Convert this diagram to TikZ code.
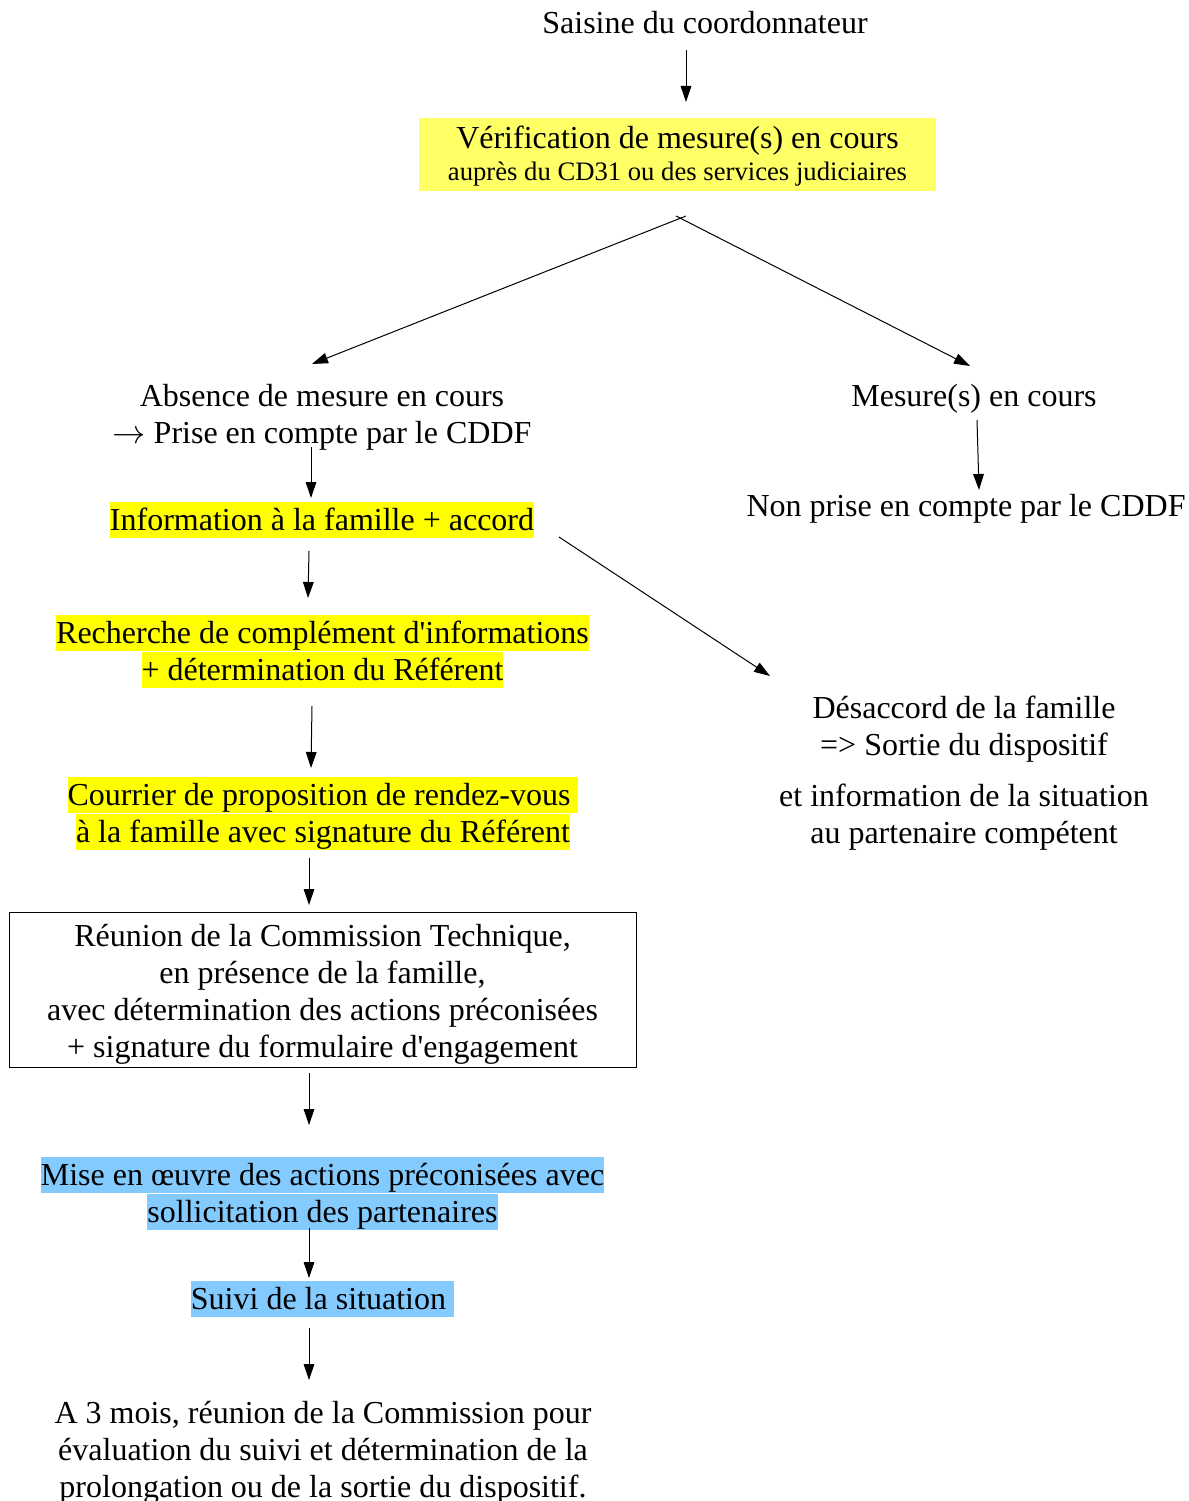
\documentclass[tikz,border=0pt]{standalone}
\usepackage{fontspec}
\setmainfont{Liberation Serif}[Ligatures=TeXOff]
\usetikzlibrary{arrows.meta}

\definecolor{jaune}{HTML}{FFFF00}
\definecolor{jaunepale}{HTML}{FFFF66}
\definecolor{bleu}{HTML}{83CAFF}
\newcommand{\surligne}[2]{{\setlength{\fboxsep}{0pt}\colorbox{#1}{\rule[-5.5pt]{0pt}{27pt}#2}}}

\begin{document}
\begin{tikzpicture}[x=0.75pt, y=-0.75pt,
  texte/.style={align=center, inner sep=0pt, font=\fontsize{24}{27.75}\selectfont},
  fleche/.style={line width=0.75pt, -{Triangle[length=12pt,width=8pt]}}]
\useasboundingbox (0,0) rectangle (1188,1501);

% Left column
\node[texte] (saisine) at (705,23) {Saisine du coordonnateur};
\node[texte, fill=jaunepale, minimum width=387.75pt, minimum height=54.75pt] (verif) at (677.5,154.5) {};
\node[texte] (veriftxt) at (677.5,156)
  {Vérification de mesure(s) en cours\\[-4.25pt]{\fontsize{20}{24}\selectfont auprès du CD31 ou des services judiciaires}};
\node[texte] (absence) at (322,417.5) {Absence de mesure en cours\\$\rightarrow$ Prise en compte par le CDDF};
\node[texte] (info) at (322,520) {\surligne{jaune}{Information à la famille + accord}};
\node[texte] (rech) at (322.5,651.5) {\surligne{jaune}{Recherche de complément d'informations}\\\surligne{jaune}{+ détermination du Référent}};
\node[texte] (courrier) at (323,813.5) {\surligne{jaune}{Courrier de proposition de rendez-vous\ }\\\surligne{jaune}{à la famille avec signature du Référent}};
\node[texte, draw, line width=0.75pt, minimum width=470.25pt, minimum height=116.25pt] (reunion) at (322.5,989.5) {};
\node[texte] (reuniontxt) at (322.5,994.5)
  {Réunion de la Commission Technique,\\en présence de la famille,\\avec détermination des actions préconisées\\+ signature du formulaire d'engagement};
\node[texte] (mise) at (322.5,1193.5) {\surligne{bleu}{Mise en œuvre des actions préconisées avec}\\\surligne{bleu}{sollicitation des partenaires}};
\node[texte] (suivi) at (322.5,1299) {\surligne{bleu}{Suivi de la situation\ }};
\node[texte] (eval) at (323,1452.5) {A 3 mois, réunion de la Commission pour\\évaluation du suivi et détermination de la\\prolongation ou de la sortie du dispositif.};

% Right column
\node[texte] (mesure) at (974,399) {Mesure(s) en cours};
\node[texte] (nonprise) at (966,509) {Non prise en compte par le CDDF};
\node[texte] (desaccord) at (964,773.5) {Désaccord de la famille\\=> Sortie du dispositif\\[10.5pt]et information de la situation\\au partenaire compétent};

% Arrows
\draw[fleche] ([shift={(-19,27)}]saisine.center) -- ([shift={(8.5,-52.5)}]verif.center);
\draw[fleche] ([shift={(8.5,61.5)}]verif.center) -- ([shift={(-10,-53.5)}]absence.center);
\draw[fleche] ([shift={(-1.5,61.5)}]verif.center) -- ([shift={(-4,-33)}]mesure.center);
\draw[fleche] ([shift={(-11,29.5)}]absence.center) -- ([shift={(-11,-22)}]info.center);
\draw[fleche] ([shift={(-13,31)}]info.center) -- ([shift={(-14.5,-53.5)}]rech.center);
\draw[fleche] ([shift={(-10.5,54.5)}]rech.center) -- ([shift={(-12,-45.5)}]courrier.center);
\draw[fleche] ([shift={(-14,44.5)}]courrier.center) -- ([shift={(-13.5,-84.5)}]reunion.center);
\draw[fleche] ([shift={(-13.5,83.5)}]reunion.center) -- ([shift={(-13.5,-68.5)}]mise.center);
\draw[fleche] ([shift={(-13.5,34.5)}]mise.center) -- ([shift={(-13.5,-21)}]suivi.center);
\draw[fleche] ([shift={(-13.5,29)}]suivi.center) -- ([shift={(-14,-72.5)}]eval.center);
\draw[fleche] ([shift={(3,21)}]mesure.center) -- ([shift={(13,-19)}]nonprise.center);
\draw[fleche] ([shift={(237,17)}]info.center) -- ([shift={(-194,-97.5)}]desaccord.center);
\end{tikzpicture}
\end{document}
